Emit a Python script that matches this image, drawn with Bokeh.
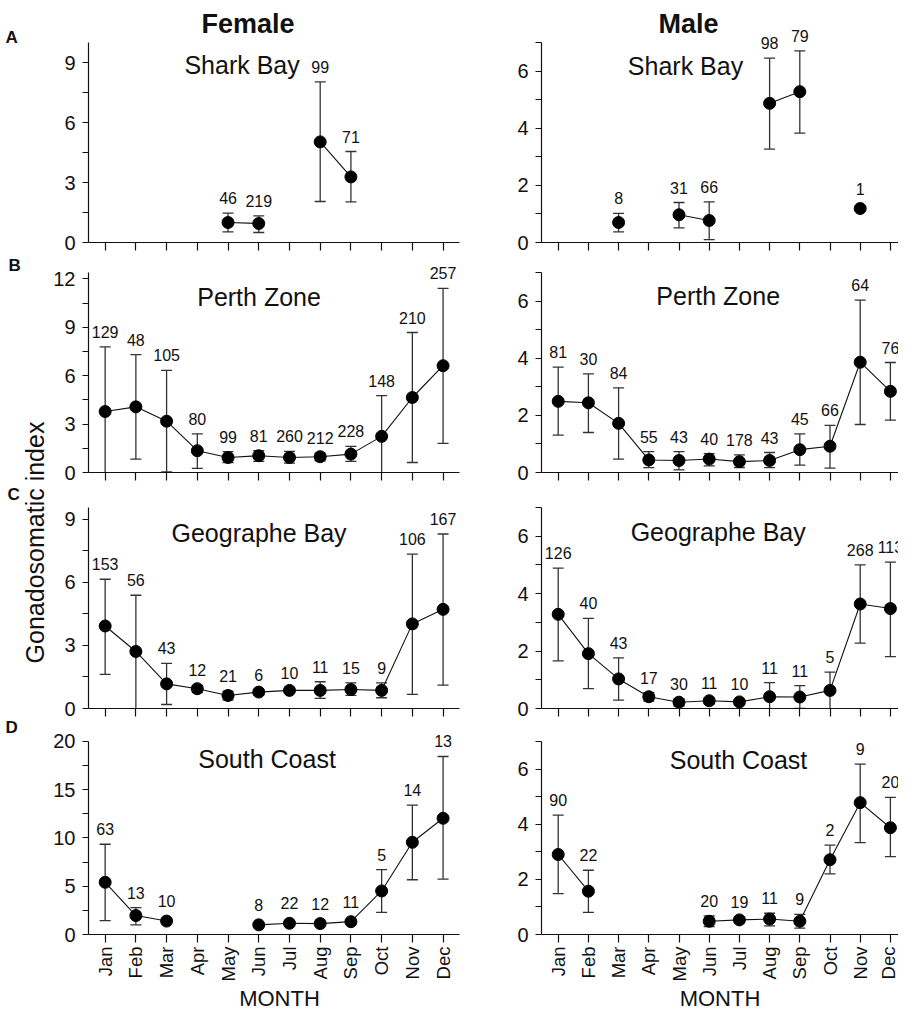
import numpy as np
from bokeh.plotting import figure
from bokeh.models import Range1d, FixedTicker, ColumnDataSource, LabelSet, Label
from bokeh.layouts import gridplot, row
from bokeh.core.properties import value
from bokeh.embed import file_html
from bokeh.resources import INLINE

FONT = "Liberation Sans"
MONTHS = ["Jan", "Feb", "Mar", "Apr", "May", "Jun", "Jul", "Aug", "Sep", "Oct", "Nov", "Dec"]
MONTH_X = list(range(1, 13))

# ---------------- Data (mean GSI, upper / lower error limits, sample size) ----------------
f_shark_mean = [None, None, None, None, 1.00, 0.95, None, 5.03, 3.28, None, None, None]
f_shark_hi = [None, None, None, None, 1.47, 1.33, None, 8.03, 4.55, None, None, None]
f_shark_lo = [None, None, None, None, 0.53, 0.50, None, 2.05, 2.03, None, None, None]
f_shark_n = [None, None, None, None, 46, 219, None, 99, 71, None, None, None]

m_shark_mean = [None, None, 0.70, None, 0.97, 0.77, None, 4.87, 5.28, None, 1.19, None]
m_shark_hi = [None, None, 1.02, None, 1.40, 1.42, None, 6.45, 6.71, None, None, None]
m_shark_lo = [None, None, 0.37, None, 0.51, 0.10, None, 3.27, 3.83, None, None, None]
m_shark_n = [None, None, 8, None, 31, 66, None, 98, 79, None, 1, None]

f_perth_mean = [3.78, 4.07, 3.18, 1.35, 0.93, 1.04, 0.93, 0.98, 1.14, 2.24, 4.65, 6.62]
f_perth_hi = [7.79, 7.31, 6.33, 2.39, 1.29, 1.35, 1.31, 1.20, 1.62, 4.77, 8.68, 11.42]
f_perth_lo = [-0.23, 0.83, 0.03, 0.25, 0.62, 0.69, 0.58, 0.73, 0.69, -0.29, 0.62, 1.81]
f_perth_n = [129, 48, 105, 80, 99, 81, 260, 212, 228, 148, 210, 257]

m_perth_mean = [2.49, 2.44, 1.72, 0.44, 0.42, 0.47, 0.38, 0.42, 0.80, 0.92, 3.86, 2.84]
m_perth_hi = [3.69, 3.45, 2.96, 0.73, 0.73, 0.66, 0.62, 0.70, 1.35, 1.65, 6.03, 3.85]
m_perth_lo = [1.31, 1.40, 0.47, 0.17, 0.09, 0.23, 0.17, 0.17, 0.26, 0.15, 1.68, 1.83]
m_perth_n = [81, 30, 84, 55, 43, 40, 178, 43, 45, 66, 64, 76]

f_geo_mean = [3.92, 2.71, 1.17, 0.94, 0.62, 0.78, 0.86, 0.86, 0.90, 0.86, 4.02, 4.71]
f_geo_hi = [6.14, 5.38, 2.14, 1.10, 0.83, 0.90, 0.98, 1.27, 1.22, 1.22, 7.33, 8.29]
f_geo_lo = [1.62, -0.05, 0.19, 0.75, 0.40, 0.63, 0.75, 0.48, 0.62, 0.51, 0.67, 1.11]
f_geo_n = [153, 56, 43, 12, 21, 6, 10, 11, 15, 9, 106, 167]

m_geo_mean = [3.28, 1.91, 1.03, 0.41, 0.22, 0.27, 0.23, 0.41, 0.40, 0.63, 3.64, 3.48]
m_geo_hi = [4.89, 3.14, 1.76, 0.55, 0.34, 0.37, 0.32, 0.90, 0.80, 1.27, 5.00, 5.10]
m_geo_lo = [1.66, 0.69, 0.29, 0.26, 0.08, 0.16, 0.14, -0.09, 0.00, -0.01, 2.28, 1.81]
m_geo_n = [126, 40, 43, 17, 30, 11, 10, 11, 11, 5, 268, 113]

f_south_mean = [5.41, 1.96, 1.39, None, None, 1.00, 1.16, 1.13, 1.33, 4.51, 9.55, 12.04]
f_south_hi = [9.35, 2.79, None, None, None, None, None, None, None, 6.73, 13.40, 18.44]
f_south_lo = [1.43, 1.00, None, None, None, None, None, None, None, 2.29, 5.67, 5.74]
f_south_n = [63, 13, 10, None, None, 8, 22, 12, 11, 5, 14, 13]

m_south_mean = [2.90, 1.57, None, None, None, 0.48, 0.53, 0.56, 0.48, 2.71, 4.78, 3.87]
m_south_hi = [4.33, 2.33, None, None, None, 0.67, 0.64, 0.77, 0.73, 3.24, 6.18, 4.97]
m_south_lo = [1.48, 0.80, None, None, None, 0.29, 0.43, 0.31, 0.23, 2.20, 3.33, 2.82]
m_south_n = [90, 22, None, None, None, 20, 19, 11, 9, 2, 9, 20]

REGIONS = ["Shark Bay", "Perth Zone", "Geographe Bay", "South Coast"]
PANEL_LETTERS = ["A", "B", "C", "D"]
SEXES = ["Female", "Male"]
Y_AXIS_TITLE = "Gonadosomatic index"
X_AXIS_TITLE = "MONTH"

F_YMAX = [10, 12.4, 9.55, 20]
F_YTICKS = [[0, 3, 6, 9], [0, 3, 6, 9, 12], [0, 3, 6, 9], [0, 5, 10, 15, 20]]
F_YMINOR = [[1.5, 4.5, 7.5], [1.5, 4.5, 7.5, 10.5], [1.5, 4.5, 7.5], [2.5, 7.5, 12.5, 17.5]]
M_YMAX = [7, 7, 7, 7]
M_YTICKS = [[0, 2, 4, 6]] * 4
M_YMINOR = [[1, 3, 5, 7]] * 4

# ---------------- Layout geometry (canvas pixels) ----------------
STRIP_W = 50
# rows: (figure top, y of axis top, y of axis zero, figure bottom), absolute canvas px
ROWS = [(0, 42, 242, 252), (252, 272, 472, 482), (482, 507, 708, 724), (724, 741, 935, 1014)]
GRID_H = ROWS[-1][3]
# columns: absolute x of y-axis, figure right edge, x of Jan tick, px per month, axis end x
COLS = [
    dict(left=STRIP_W, axis=87, right=470, jan=103.7, ppm=30.8, axis_end=459),
    dict(left=470, axis=541, right=898, jan=557.7, ppm=30.2, axis_end=898),
]
# text positions (absolute canvas px): title centre x, title baseline y
TITLE_POS = [
    [(241, 64.7), (258, 296), (258, 532), (266, 759)],
    [(685, 65), (717.7, 295.3), (717.7, 531), (738, 760)],
]
HEAD_POS = [(247, 23.7), (688, 23.7)]
LETTER_POS = [(5, 37), (8, 265), (7, 494), (5, 727)]
YTITLE_POS = (34, 542)

INK = "#111111"
ERR = "#333333"


def arr(v):
    return np.array(v, dtype=float)


def make_panel(ci, ri, mean, hi, lo, n, ymax, yt, ym):
    col = COLS[ci]
    ftop, atop, azero, fbot = ROWS[ri]
    bottom = ri == 3
    bl = col["axis"] - col["left"]
    fw = col["right"] - col["axis"]
    x0 = 1 - (col["jan"] - col["axis"]) / col["ppm"]
    x1 = x0 + fw / col["ppm"]
    xb = x0 + (col["axis_end"] - col["axis"]) / col["ppm"]
    upp = ymax / (azero - atop)  # data units per pixel
    y1 = (azero - ftop) * upp

    p = figure(width=col["right"] - col["left"], height=fbot - ftop,
               min_border_left=bl, min_border_right=0,
               min_border_top=0, min_border_bottom=fbot - azero,
               x_range=Range1d(x0, x1), y_range=Range1d(0, y1),
               output_backend="svg", toolbar_location=None, tools="")
    p.outline_line_color = None
    p.grid.visible = False
    p.background_fill_color = "white"
    p.border_fill_color = "white"

    def dx(cx):
        return x0 + (cx - col["axis"]) / col["ppm"]

    def dy(cy):
        return (azero - cy) * upp

    xa = p.xaxis[0]
    ya = p.yaxis[0]
    for ax in (xa, ya):
        ax.axis_line_color = INK
        ax.axis_line_width = 1.2
        ax.major_tick_line_color = INK
        ax.major_tick_line_width = 1.2
        ax.major_tick_in = 0
        ax.minor_tick_in = 0
        ax.major_label_text_font = FONT
        ax.major_label_text_color = INK
    ya.bounds = (0, ymax)
    ya.ticker = FixedTicker(ticks=yt, minor_ticks=ym)
    ya.major_tick_out = 6
    ya.minor_tick_out = 6
    ya.minor_tick_line_color = INK
    ya.minor_tick_line_width = 1.2
    ya.major_label_standoff = 7
    ya.major_label_text_font_size = "20px"

    xa.bounds = (x0, xb)
    xa.ticker = FixedTicker(ticks=MONTH_X, minor_ticks=[])
    xa.major_tick_out = 8
    xa.major_label_overrides = {m: lab for m, lab in zip(MONTH_X, MONTHS)}
    if bottom:
        xa.major_label_orientation = np.pi / 2
        xa.major_label_text_font_size = "18.5px"
        xa.major_label_standoff = 4
        xa.axis_label = X_AXIS_TITLE
        xa.axis_label_text_font = FONT
        xa.axis_label_text_font_style = "normal"
        xa.axis_label_text_font_size = "22px"
        xa.axis_label_text_color = INK
        xa.axis_label_standoff = 2
    else:
        xa.major_label_text_font_size = "1px"
        xa.major_label_text_color = None
        xa.major_label_standoff = 0

    xs = arr(MONTH_X)
    m = arr(mean)
    h = arr(hi)
    l = arr(lo)
    ok = ~np.isnan(h)
    # error bars stop at the x axis (the frame extends above the axis only)
    lc = np.where(l < 0, 0.0, l)
    p.segment(x0=xs[ok], y0=lc[ok], x1=xs[ok], y1=h[ok], line_color=ERR, line_width=1.3)
    p.scatter(x=xs[ok], y=h[ok], marker="dash", size=11, line_color=ERR, line_width=1.3)
    show_lo = ok & (l >= 0)
    p.scatter(x=xs[show_lo], y=l[show_lo], marker="dash", size=11, line_color=ERR, line_width=1.3)
    p.line(xs, m, line_color=INK, line_width=1.1)
    p.scatter(xs, m, size=12, fill_color="black", line_color="black")

    has_n = np.array([v is not None for v in n])
    with_err = has_n & ok
    no_err = has_n & ~ok
    for mask, yv, off in ((with_err, h, 9), (no_err, m, 14)):
        if mask.any():
            src = ColumnDataSource(dict(x=xs[mask], y=yv[mask],
                                        t=[str(n[i]) for i in range(12) if mask[i]]))
            p.add_layout(LabelSet(x="x", y="y", text="t", source=src, y_offset=off,
                                  text_align="center", text_baseline="alphabetic",
                                  text_font=value(FONT), text_font_size=value("16px"),
                                  text_color=INK))

    tx, ty = TITLE_POS[ci][ri]
    p.add_layout(Label(x=dx(tx), y=dy(ty), text=REGIONS[ri], text_align="center",
                       text_baseline="alphabetic", text_font=FONT,
                       text_font_size="25px", text_color=INK))
    if ri == 0:
        hx, hy = HEAD_POS[ci]
        p.add_layout(Label(x=dx(hx), y=dy(hy), text=SEXES[ci], text_align="center",
                           text_baseline="alphabetic", text_font=FONT,
                           text_font_style="bold", text_font_size="27px", text_color=INK))
    return p


female = [
    (f_shark_mean, f_shark_hi, f_shark_lo, f_shark_n),
    (f_perth_mean, f_perth_hi, f_perth_lo, f_perth_n),
    (f_geo_mean, f_geo_hi, f_geo_lo, f_geo_n),
    (f_south_mean, f_south_hi, f_south_lo, f_south_n),
]
male = [
    (m_shark_mean, m_shark_hi, m_shark_lo, m_shark_n),
    (m_perth_mean, m_perth_hi, m_perth_lo, m_perth_n),
    (m_geo_mean, m_geo_hi, m_geo_lo, m_geo_n),
    (m_south_mean, m_south_hi, m_south_lo, m_south_n),
]

grid_rows = []
for ri in range(4):
    fp = make_panel(0, ri, *female[ri], F_YMAX[ri], F_YTICKS[ri], F_YMINOR[ri])
    mp = make_panel(1, ri, *male[ri], M_YMAX[ri], M_YTICKS[ri], M_YMINOR[ri])
    grid_rows.append([fp, mp])

# left strip with panel letters and the shared y-axis title
strip = figure(width=STRIP_W, height=GRID_H, x_range=Range1d(0, STRIP_W),
               y_range=Range1d(0, GRID_H), x_axis_type=None, y_axis_type=None,
               min_border=0, output_backend="svg", toolbar_location=None, tools="")
strip.outline_line_color = None
strip.grid.visible = False
for letter, (lx, ly) in zip(PANEL_LETTERS, LETTER_POS):
    strip.add_layout(Label(x=lx, y=GRID_H - ly, text=letter, text_align="left",
                           text_baseline="alphabetic", text_font=FONT,
                           text_font_style="bold", text_font_size="17px", text_color=INK))
strip.add_layout(Label(x=YTITLE_POS[0], y=GRID_H - YTITLE_POS[1], text=Y_AXIS_TITLE,
                       angle=np.pi / 2, text_align="center", text_baseline="middle",
                       text_font=FONT, text_font_size="25px", text_color=INK))

grid = gridplot(grid_rows, toolbar_location=None)
layout = row(strip, grid)

with open("out.html", "w") as f:
    f.write(file_html(layout, INLINE))
